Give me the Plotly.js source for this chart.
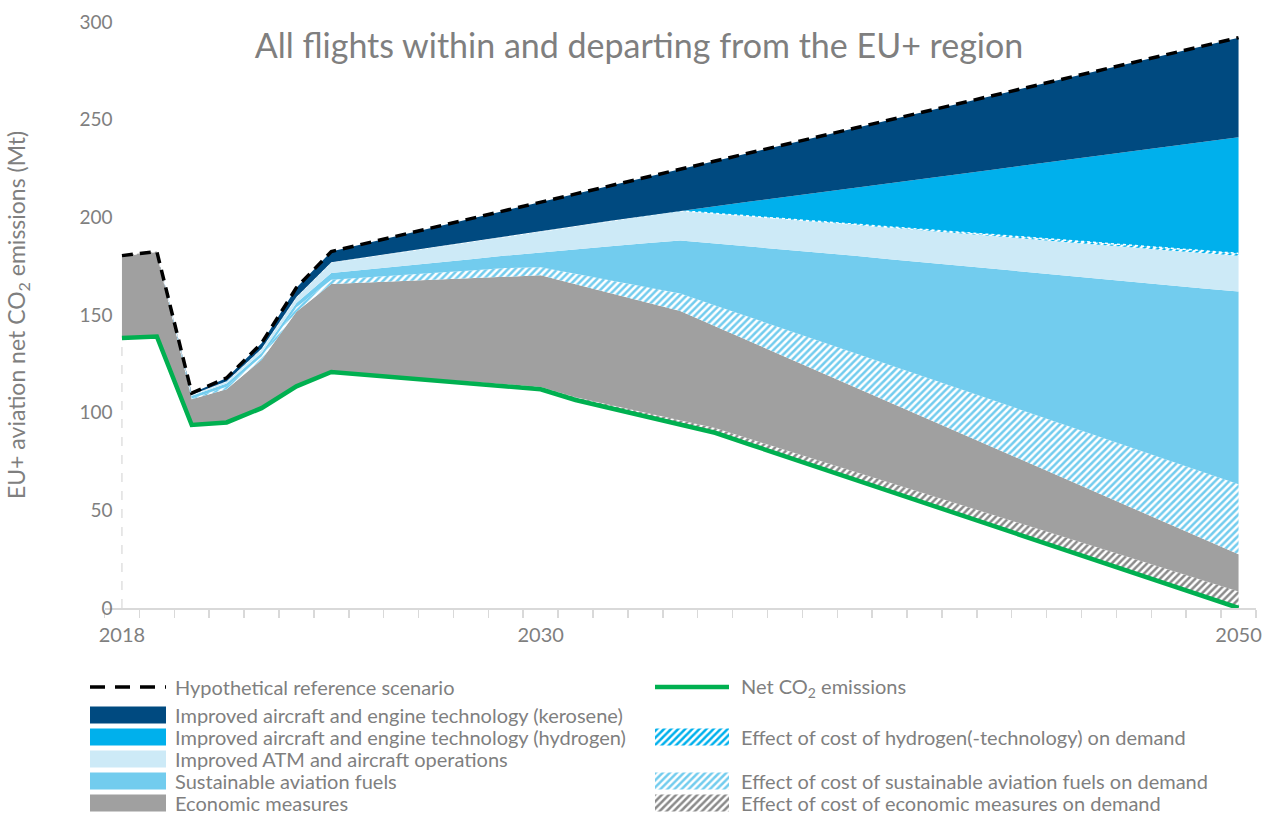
<!DOCTYPE html>
<html>
<head>
<meta charset="utf-8">
<script src="https://cdn.plot.ly/plotly-3.0.1.min.js"></script>
<style>html,body{margin:0;padding:0;background:#fff}#chart{width:1273px;height:816px}</style>
</head>
<body>
<div id="chart"></div>
<script>
// ---------------- DATA (Mt CO2) ----------------
const years = [2018,2019,2020,2021,2022,2023,2024,2025,2026,2027,2028,2029,2030,2031,2032,2033,2034,2035,2036,2037,2038,2039,2040,2041,2042,2043,2044,2045,2046,2047,2048,2049,2050];

const referenceScenario = [180.4,182.5,110,117.8,135.5,164,182.5, 186.7,190.9,195.1,199.3,203.6,207.8,212,216.2,220.4,224.6, 228.8,233,237.2,241.4,245.6,249.8,254,258.3,262.5,266.7, 270.9,275.1,279.3,283.5,287.8,292];
const netEmissions = [138.2,139,93.7,95,102.3,113.5,120.8, 119.4,118,116.6,115.2,113.6,112,106.5,102.3,98.1,93.9, 89.7,83.7,77.7,71.8,65.8,59.8,53.8,47.8,41.9,35.9, 29.9,23.9,17.9,12,6,0];
const econDemand = [0,0,0,0,0,0,0, 0.2,0.4,0.6,0.8,1,1.2,1.4,1.6,1.8,2, 2.4,2.8,3.2,3.6,4,4.4,4.8,5.2,5.6,6, 6.4,6.8,7.2,7.6,8,8.4];
const economicMeasures = [42.2,43.5,13.2,17,24.7,38.2,45.1, 47,49,50.9,52.8,55,57.1,57.8,57.2,56.7,56.1, 52.1,49.9,47.8,45.5,43.3,41.1,39,36.8,34.5,32.3, 30.2,28,25.8,23.5,21.3,19.1];
const safDemand = [0,0,0.3,1.3,1.7,2.3,2.1, 2.5,3,3.5,4,4.4,4.2,5.4,6.7,7.8,9, 10.7,12.4,14,15.7,17.4,19.1,20.7,22.4,24.1,25.8, 27.4,29.1,30.8,32.5,34.2,35.9];
const sustainableFuels = [0,0,1.4,1.6,1.9,2.1,3.5, 4.1,4.6,5.2,5.7,6.4,7.6,12.5,17.4,22.3,27.2, 31.7,36.3,40.7,45.4,49.8,54.2,58.6,63.1,67.5,71.9, 76.3,80.9,85.3,89.5,94.1,98.6];
const atmOperations = [0,0,0.6,1.2,2.1,3.1,5.5, 6.4,7.3,8.1,9,9.9,10.8,11.9,13,14.1,15.2, 15.3,15.4,15.5,15.6,15.8,16,16.3,16.5,16.7,17, 17.2,17.4,17.6,17.9,18.1,18.3];
const h2Demand = [0,0,0,0,0,0,0, 0,0,0,0,0,0,0,0,0,0, 0.1,0.2,0.3,0.3,0.4,0.5,0.6,0.6,0.7,0.8, 0.9,0.9,1,1.1,1.2,1.2];
const hydrogenTech = [0,0,0,0,0,0,0, 0,0,0,0,0,0,0,0,0,0, 3.7,7.4,11.2,14.9,18.6,22.3,26,29.8,33.5,37.2, 40.9,44.6,48.3,52.1,55.8,59.5];
const keroseneTech = [0,0,0.8,1.7,2.8,4.8,5.5, 7.1,8.6,10.2,11.8,13.3,14.9,16.5,18,19.6,21.2, 23.1,24.9,26.8,28.6,30.5,32.4,34.2,36.1,38,39.8, 41.7,43.5,45.4,47.3,49.1,51];

const xTickVals = [2018, 2030, 2050];
const xTickText = ['2018', '2030', '2050'];
const yTickVals = [0, 50, 100, 150, 200, 250, 300];

const chartTitle = 'All flights within and departing from the EU+ region';
const yTitle = 'EU+ aviation net CO<sub>2</sub> emissions (Mt)';

// ---------------- STYLE ----------------
const C = {
  kero: '#004a80', h2: '#00b0ec', atm: '#cdeaf7', saf: '#72ccee', econ: '#a0a0a0',
  econHatch: '#8a8a8a', green: '#00b050', text: '#7f7f7f', axis: '#d9d9d9'
};
const W = 1273, H = 816;
const plotL = 104.5, plotR = 1256, plotT = 22, plotB = 608;

function hatch(color) { return { shape: '/', fgcolor: color, bgcolor: '#ffffff', size: 5, solidity: 0.5 }; }

function layer(name, y, fillcolor, pattern, line) {
  const t = {
    type: 'scatter', mode: 'lines', name: name, x: years, y: y,
    stackgroup: 'abatement', fill: 'tonexty', fillcolor: fillcolor,
    line: line || { width: 0, color: fillcolor }, hoverinfo: 'skip'
  };
  if (pattern) t.fillpattern = pattern;
  return t;
}

const traces = [];
// base of the stack: net emissions (invisible fill)
traces.push({ type: 'scatter', mode: 'lines', name: 'base', x: years, y: netEmissions,
  stackgroup: 'abatement', fill: 'tozeroy', fillcolor: 'rgba(0,0,0,0)', line: { width: 0 }, hoverinfo: 'skip' });
traces.push(layer('Effect of cost of economic measures on demand', econDemand, '#ffffff', hatch(C.econHatch)));
traces.push(layer('Economic measures', economicMeasures, C.econ));
traces.push(layer('Effect of cost of sustainable aviation fuels on demand', safDemand, '#ffffff', hatch(C.saf)));
traces.push(layer('Sustainable aviation fuels', sustainableFuels, C.saf));
traces.push(layer('Improved ATM and aircraft operations', atmOperations, C.atm));
traces.push(layer('Effect of cost of hydrogen(-technology) on demand', h2Demand, '#ffffff', hatch(C.h2),
  { width: 1.5, color: '#ffffff', dash: 'dot' }));
traces.push(layer('Improved aircraft and engine technology (hydrogen)', hydrogenTech, C.h2));
traces.push(layer('Improved aircraft and engine technology (kerosene)', keroseneTech, C.kero));

// drop line at the first year
traces.push({ type: 'scatter', mode: 'lines', x: [years[0], years[0]], y: [0, netEmissions[0]],
  line: { color: '#d0d0d0', width: 1, dash: 'dash' }, hoverinfo: 'skip' });
// reference scenario
traces.push({ type: 'scatter', mode: 'lines', name: 'Hypothetical reference scenario', x: years, y: referenceScenario,
  line: { color: '#000000', width: 3.5, dash: '11px,7px' }, hoverinfo: 'skip' });
// net emissions
traces.push({ type: 'scatter', mode: 'lines', name: 'Net CO2 emissions', x: years, y: netEmissions,
  line: { color: C.green, width: 4.5 }, hoverinfo: 'skip' });

// ---------------- CUSTOM LEGEND (drawn on a pixel-scaled overlay axis) ----------------
const legendRows = [687, 715, 737, 759, 781, 803];
const legendCols = [{ x0: 90, x1: 166, tx: 173 }, { x0: 655, x1: 729, tx: 739 }];
const legendItems = [
  { col: 0, row: 0, kind: 'dash', color: '#000000', label: 'Hypothetical reference scenario' },
  { col: 0, row: 1, kind: 'box', color: C.kero, label: 'Improved aircraft and engine technology (kerosene)' },
  { col: 0, row: 2, kind: 'box', color: C.h2, label: 'Improved aircraft and engine technology (hydrogen)' },
  { col: 0, row: 3, kind: 'box', color: C.atm, label: 'Improved ATM and aircraft operations' },
  { col: 0, row: 4, kind: 'box', color: C.saf, label: 'Sustainable aviation fuels' },
  { col: 0, row: 5, kind: 'box', color: C.econ, label: 'Economic measures' },
  { col: 1, row: 0, kind: 'line', color: C.green, label: 'Net CO<sub>2</sub> emissions' },
  { col: 1, row: 2, kind: 'hatch', color: C.h2, label: 'Effect of cost of hydrogen(-technology) on demand' },
  { col: 1, row: 4, kind: 'hatch', color: C.saf, label: 'Effect of cost of sustainable aviation fuels on demand' },
  { col: 1, row: 5, kind: 'hatch', color: C.econHatch, label: 'Effect of cost of economic measures on demand' }
];
const annotations = [];
legendItems.forEach(it => {
  const c = legendCols[it.col], yc = legendRows[it.row];
  if (it.kind === 'dash' || it.kind === 'line') {
    traces.push({ type: 'scatter', mode: 'lines', xaxis: 'x2', yaxis: 'y2', x: [c.x0, c.x1], y: [yc, yc],
      line: { color: it.color, width: it.kind === 'dash' ? 3.5 : 4.5, dash: it.kind === 'dash' ? '15px,10px' : 'solid' },
      hoverinfo: 'skip' });
  } else {
    const h = 8.5;
    const t = { type: 'scatter', mode: 'lines', xaxis: 'x2', yaxis: 'y2',
      x: [c.x0, c.x1, c.x1, c.x0, c.x0], y: [yc - h, yc - h, yc + h, yc + h, yc - h],
      fill: 'toself', line: { width: 0 }, hoverinfo: 'skip',
      fillcolor: it.kind === 'box' ? it.color : '#ffffff' };
    if (it.kind === 'hatch') t.fillpattern = hatch(it.color);
    traces.push(t);
  }
  annotations.push({ xref: 'paper', yref: 'paper', x: c.tx / W, y: 1 - yc / H, xanchor: 'left', yanchor: 'middle',
    text: it.label, showarrow: false, font: { size: 20, color: C.text } });
});

const layout = {
  width: W, height: H, margin: { l: 0, r: 0, t: 0, b: 0 },
  paper_bgcolor: '#ffffff', plot_bgcolor: 'rgba(0,0,0,0)', showlegend: false,
  font: { family: 'Lato, "Open Sans", sans-serif', color: C.text, size: 18 },
  title: { text: chartTitle, x: 0.502, xanchor: 'center', y: 1 - 46 / H, yanchor: 'middle',
    font: { size: 34, color: C.text } },
  xaxis: { domain: [plotL / W, plotR / W], range: [2017.5, 2050.5], tickmode: 'array', tickvals: xTickVals,
    ticktext: xTickText, ticks: 'outside', ticklen: 8, tickcolor: 'rgba(0,0,0,0)', showgrid: false,
    zeroline: false, showline: true, linecolor: C.axis, linewidth: 1.5,
    tickfont: { size: 20, color: C.text }, automargin: false,
    minor: { tickmode: 'linear', tick0: 2017.5, dtick: 1, ticks: 'outside', ticklen: 8, tickwidth: 1.5,
      tickcolor: C.axis, showgrid: false } },
  yaxis: { domain: [(H - plotB) / H, (H - plotT) / H], range: [0, 300], tickmode: 'array', tickvals: yTickVals,
    anchor: 'free', position: (plotL + 8) / W,
    showgrid: false, zeroline: false, showline: false, ticks: '', automargin: false,
    tickfont: { size: 19, color: C.text },
    title: { text: yTitle, font: { size: 23, color: C.text }, standoff: 46 } },
  xaxis2: { domain: [0, 1], range: [0, W], visible: false, anchor: 'y2', fixedrange: true },
  yaxis2: { domain: [0, 1], range: [H, 0], visible: false, anchor: 'x2', fixedrange: true },
  annotations: annotations
};

Plotly.newPlot('chart', traces, layout, { staticPlot: true, displayModeBar: false });
</script>
</body>
</html>
